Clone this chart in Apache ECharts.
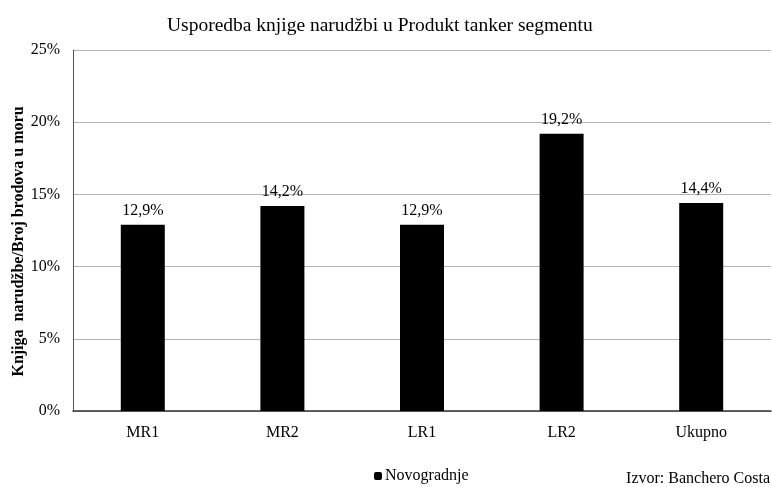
<!DOCTYPE html>
<html>
<head>
<meta charset="utf-8">
<script src="https://cdn.jsdelivr.net/npm/echarts@6/dist/echarts.min.js"></script>
<style>
  html, body { margin: 0; padding: 0; background: #fff; }
  #chart { width: 772px; height: 487px; }
</style>
</head>
<body>
<div id="chart"></div>
<script>
// kategorije i vrijednosti (%)
const categories = ['MR1', 'MR2', 'LR1', 'LR2', 'Ukupno']
const novogradnje = [12.9, 14.2, 12.9, 19.2, 14.4]
const yTicks = [0, 5, 10, 15, 20, 25]

const font = '"Liberation Serif", "Times New Roman", serif'

const myChart = echarts.init(document.getElementById('chart'), null, { renderer: 'canvas' })
const option = {
  animation: false,
  textStyle: { fontFamily: font },
  title: {
    text: 'Usporedba knjige narudžbi u Produkt tanker segmentu',
    left: 162,
    top: 11,
    textStyle: { fontFamily: font, fontSize: 19.5, fontWeight: 'normal', color: '#000' },
  },
  grid: {
    left: 73,
    right: 1,
    top: 50,
    bottom: 76,
    outerBoundsMode: 'none',
  },
  legend: {
    data: ['Novogradnje'],
    left: 369,
    top: 463,
    itemWidth: 8,
    itemHeight: 8,
    itemGap: 4,
    textStyle: { fontFamily: font, fontSize: 16, color: '#000', padding: [0, 0, 0, -2] },
  },
  xAxis: {
    type: 'category',
    data: categories,
    axisLine: { lineStyle: { color: '#333', width: 1.5 } },
    axisTick: { show: false },
    axisLabel: { color: '#000', fontSize: 16, margin: 14, fontFamily: font },
  },
  yAxis: {
    type: 'value',
    min: yTicks[0],
    max: yTicks[yTicks.length - 1],
    interval: 5,
    name: 'Knjiga  narudžbe/Broj brodova u moru',
    nameLocation: 'middle',
    nameGap: 46,
    nameMoveOverlap: false,
    nameTextStyle: { fontFamily: font, fontSize: 16, fontWeight: 'bold', color: '#000', padding: [0, 22, 0, 0] },
    axisLine: { show: true, lineStyle: { color: '#555', width: 1 } },
    axisTick: { show: false },
    splitLine: { lineStyle: { color: '#b3b3b3', width: 1 } },
    axisLabel: {
      color: '#000',
      fontSize: 16,
      margin: 13,
      fontFamily: font,
      formatter: (v) => v + '%',
    },
  },
  series: [
    {
      name: 'Novogradnje',
      type: 'bar',
      data: novogradnje,
      barWidth: 44,
      itemStyle: { color: '#000' },
      label: {
        show: true,
        position: 'top',
        distance: 6,
        color: '#000',
        fontSize: 16,
        fontFamily: font,
        formatter: (p) => p.value.toFixed(1).replace('.', ',') + '%',
      },
    },
  ],
  graphic: [
    {
      type: 'text',
      right: 2,
      top: 471,
      style: { text: 'Izvor: Banchero Costa', font: '16px ' + font, fill: '#000' },
    },
  ],
}

option && myChart.setOption(option)
</script>
</body>
</html>
